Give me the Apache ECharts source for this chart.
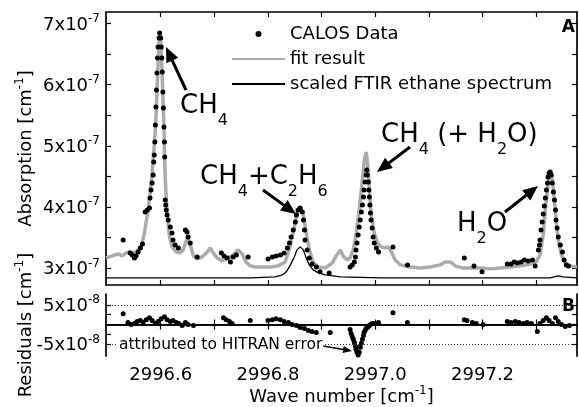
<!DOCTYPE html>
<html>
<head>
<meta charset="utf-8">
<script src="https://cdn.jsdelivr.net/npm/echarts@6/dist/echarts.min.js"></script>
<style>
  html, body { margin: 0; padding: 0; background: #fff; }
  #chart { width: 579px; height: 407px; }
</style>
</head>
<body>
<div id="chart"></div>
<script>
// absorption values in units of 1e-7 cm^-1, residuals in units of 1e-8 cm^-1
const fitWave = [2996.498, 2996.510, 2996.521, 2996.528, 2996.536, 2996.543, 2996.551, 2996.558, 2996.564, 2996.569,
  2996.575, 2996.580, 2996.584, 2996.588, 2996.591, 2996.593, 2996.595, 2996.597, 2996.599, 2996.600,
  2996.602, 2996.604, 2996.606, 2996.607, 2996.609, 2996.612, 2996.616, 2996.621, 2996.629, 2996.636,
  2996.642, 2996.648, 2996.651, 2996.655, 2996.661, 2996.668, 2996.677, 2996.687, 2996.692, 2996.698,
  2996.705, 2996.715, 2996.724, 2996.733, 2996.744, 2996.752, 2996.759, 2996.767, 2996.776, 2996.789,
  2996.804, 2996.819, 2996.832, 2996.841, 2996.849, 2996.854, 2996.860, 2996.866, 2996.871, 2996.877,
  2996.884, 2996.894, 2996.907, 2996.920, 2996.927, 2996.935, 2996.940, 2996.948, 2996.953, 2996.959,
  2996.964, 2996.970, 2996.976, 2996.980, 2996.983, 2996.986, 2996.989, 2996.992, 2996.998, 2997.004,
  2997.011, 2997.019, 2997.024, 2997.030, 2997.037, 2997.047, 2997.065, 2997.084, 2997.102, 2997.121,
  2997.130, 2997.140, 2997.149, 2997.162, 2997.177, 2997.196, 2997.214, 2997.233, 2997.252, 2997.270,
  2997.289, 2997.300, 2997.307, 2997.313, 2997.317, 2997.321, 2997.324, 2997.327, 2997.330, 2997.334,
  2997.337, 2997.341, 2997.347, 2997.354, 2997.363, 2997.376];
const fitAbs = [3.164, 3.196, 3.229, 3.196, 3.246, 3.262, 3.246, 3.295, 3.360, 3.540,
  3.867, 4.195, 4.571, 5.013, 5.422, 5.913, 6.323, 6.732, 6.879, 6.732,
  6.323, 5.831, 5.340, 4.849, 4.358, 3.867, 3.540, 3.344, 3.262, 3.246,
  3.295, 3.458, 3.491, 3.376, 3.196, 3.147, 3.180, 3.262, 3.327, 3.246,
  3.164, 3.115, 3.164, 3.196, 3.295, 3.229, 3.098, 3.033, 3.016, 3.016,
  3.016, 3.033, 3.098, 3.344, 3.655, 3.900, 3.982, 3.867, 3.589, 3.295,
  3.098, 3.016, 3.000, 3.082, 3.196, 3.295, 3.196, 3.131, 3.164, 3.295,
  3.540, 3.949, 4.440, 4.800, 4.899, 4.686, 4.277, 3.900, 3.573, 3.409,
  3.344, 3.327, 3.344, 3.262, 3.131, 3.049, 3.016, 3.000, 3.016, 3.049,
  3.098, 3.098, 3.033, 3.000, 3.000, 3.000, 2.984, 3.000, 3.016, 3.033,
  3.065, 3.098, 3.213, 3.540, 3.949, 4.277, 4.506, 4.571, 4.440, 4.113,
  3.786, 3.458, 3.213, 3.082, 3.033, 3.016];

const calosWave = [2996.530, 2996.543, 2996.547, 2996.551, 2996.554, 2996.558, 2996.562, 2996.566,
  2996.571, 2996.575, 2996.579, 2996.580, 2996.582, 2996.584, 2996.586, 2996.587, 2996.588, 2996.589,
  2996.590, 2996.591, 2996.592, 2996.593, 2996.594, 2996.595, 2996.597, 2996.598,
  2996.600, 2996.601, 2996.602, 2996.603, 2996.604, 2996.605, 2996.606, 2996.607, 2996.6075,
  2996.6084, 2996.6093, 2996.6103, 2996.612, 2996.614, 2996.618, 2996.621, 2996.623, 2996.627, 2996.633,
  2996.646, 2996.649, 2996.651, 2996.655, 2996.668,
  2996.713, 2996.718, 2996.724, 2996.730, 2996.735, 2996.741, 2996.763,
  2996.800, 2996.808, 2996.815, 2996.823, 2996.830, 2996.836, 2996.840, 2996.843, 2996.847, 2996.851,
  2996.853, 2996.856, 2996.860, 2996.864, 2996.866, 2996.868, 2996.869, 2996.873, 2996.877, 2996.882,
  2996.890, 2996.897, 2996.914,
  2996.953, 2996.957, 2996.961, 2996.963, 2996.964, 2996.966, 2996.968, 2996.970, 2996.972, 2996.974,
  2996.976, 2996.978, 2996.979, 2996.981, 2996.983, 2996.984, 2996.985, 2996.987, 2996.988, 2996.989,
  2996.990, 2996.991, 2996.992, 2996.994, 2996.996, 2996.998, 2997.002, 2997.006,
  2997.033, 2997.060, 2997.166, 2997.184, 2997.199,
  2997.246, 2997.253, 2997.259, 2997.265, 2997.272, 2997.278, 2997.285, 2997.293, 2997.298,
  2997.304, 2997.306, 2997.307, 2997.309, 2997.311, 2997.313, 2997.315, 2997.317, 2997.319, 2997.321,
  2997.322, 2997.324, 2997.326, 2997.328, 2997.330, 2997.332, 2997.334, 2997.336, 2997.337, 2997.339,
  2997.341, 2997.345, 2997.349, 2997.352, 2997.356, 2997.360];
const calosAbs = [3.458, 3.246, 3.213, 3.164, 3.196, 3.262, 3.327, 3.393,
  3.917, 3.949, 3.982, 4.146, 4.277, 4.391, 4.522, 4.735, 4.849, 5.062,
  5.340, 5.635, 5.913, 6.192, 6.437, 6.617, 6.764, 6.846,
  6.764, 6.617, 6.437, 6.208, 5.881, 5.619, 5.308, 5.062, 4.817,
  4.113, 4.031, 3.949, 3.867, 3.786, 3.671, 3.573, 3.458, 3.376, 3.327,
  3.622, 3.589, 3.507, 3.409, 3.180,
  3.246, 3.196, 3.164, 3.098, 3.180, 3.213, 3.180,
  3.147, 3.180, 3.196, 3.213, 3.246, 3.327, 3.409, 3.507, 3.622, 3.753,
  3.867, 3.949, 3.982, 3.917, 3.786, 3.622, 3.458, 3.295, 3.164, 3.065,
  3.016, 2.935, 2.918,
  3.016, 3.049, 3.098, 3.180, 3.295, 3.409, 3.540, 3.671, 3.786, 3.917,
  4.031, 4.162, 4.277, 4.408, 4.522, 4.604, 4.522, 4.408, 4.277, 4.162,
  4.031, 3.900, 3.786, 3.655, 3.507, 3.409, 3.327, 3.262,
  3.344, 3.049, 3.164, 3.033, 2.935,
  3.065, 3.065, 3.098, 3.082, 3.098, 3.131, 3.115, 3.131, 3.033,
  3.295, 3.376, 3.458, 3.622, 3.753, 3.884, 4.015, 4.146, 4.277, 4.391,
  4.489, 4.555, 4.571, 4.522, 4.391, 4.244, 4.113, 3.949, 3.786, 3.655,
  3.507, 3.376, 3.262, 3.131, 3.049, 3.033];

const ftirWave = [2996.498, 2996.580, 2996.674, 2996.767, 2996.813, 2996.827, 2996.834, 2996.841, 2996.849,
  2996.854, 2996.860, 2996.866, 2996.871, 2996.877, 2996.884, 2996.894, 2996.907, 2996.935, 2997.009,
  2997.140, 2997.289, 2997.326, 2997.341, 2997.350, 2997.376];
const ftirAbs = [2.836, 2.836, 2.836, 2.836, 2.853, 2.885, 2.935, 3.033, 3.180,
  3.295, 3.344, 3.295, 3.164, 3.049, 2.967, 2.918, 2.885, 2.853, 2.836,
  2.836, 2.836, 2.836, 2.869, 2.853, 2.836];

const resWave = [2996.530, 2996.539, 2996.545, 2996.551, 2996.556, 2996.562, 2996.567, 2996.573, 2996.579,
  2996.584, 2996.590, 2996.595, 2996.601, 2996.607, 2996.612, 2996.618, 2996.623, 2996.629, 2996.634,
  2996.640, 2996.646, 2996.651, 2996.661,
  2996.717, 2996.722, 2996.728, 2996.733, 2996.767,
  2996.800, 2996.808, 2996.815, 2996.823, 2996.830, 2996.838, 2996.845, 2996.853, 2996.860, 2996.868,
  2996.875, 2996.882, 2996.890, 2996.916,
  2996.953, 2996.955, 2996.957, 2996.959, 2996.961, 2996.963, 2996.964, 2996.966, 2996.968, 2996.970,
  2996.972, 2996.974, 2996.976, 2996.978, 2996.979, 2996.981, 2996.983, 2996.985, 2996.987, 2996.989,
  2996.991, 2996.994, 2996.998, 2997.006,
  2997.033, 2997.060, 2997.166, 2997.171, 2997.181, 2997.188, 2997.201,
  2997.246, 2997.253, 2997.261, 2997.268, 2997.276, 2997.283, 2997.291, 2997.302, 2997.307, 2997.313,
  2997.319, 2997.324, 2997.330, 2997.336, 2997.341, 2997.347, 2997.354, 2997.362];
const resValue = [2.75, 0.5, 0.0, 0.25, 0.75, 1.0, 0.5, 1.25, 1.75,
  1.0, 0.25, 0.75, 1.5, 2.0, 1.25, 0.75, 1.0, 0.5, 0.25,
  -0.25, 0.5, 0.0, -0.25,
  1.75, 1.25, 0.75, 0.25, 1.0,
  1.0, 1.25, 1.5, 1.25, 0.75, 0.5, 0.0, -0.25, -0.75, -1.0,
  -1.5, -1.75, -2.0, -2.0,
  -1.25, -2.25, -3.0, -3.75, -4.5, -5.5, -6.25, -7.0, -7.75, -7.0,
  -5.75, -4.75, -3.75, -2.75, -2.0, -1.5, -1.0, -0.75, -0.5, -0.25,
  0.0, 0.25, 0.25, 0.5,
  3.0, 0.5, 1.25, 1.0, 0.5, 0.25, 0.0,
  0.75, 0.5, 0.75, 0.5, 0.25, 0.5, 0.25, -1.75, 0.25, 1.0,
  1.75, 1.0, 0.25, 1.75, 0.75, 0.0, -0.5, -0.25];

const waveTicks = [2996.6, 2996.7, 2996.8, 2996.9, 2997.0, 2997.1, 2997.2, 2997.3];
const waveLabels = [2996.6, 2996.8, 2997.0, 2997.2];
const absTicks = [3, 3.5, 4, 4.5, 5, 5.5, 6, 6.5, 7];
const absLabels = [3, 4, 5, 6, 7];
const resTicks = [-5, -2.5, 0, 2.5, 5];
const resLabels = [-5, 0, 5];
const legendNames = ['CALOS Data', 'fit result', 'scaled FTIR ethane spectrum'];

const zip = (xs, ys) => xs.map((x, i) => [x, ys[i]]);
const FONT = 'DejaVu Sans';
const supRich = {
  m: { fontFamily: FONT, fontSize: 18, color: '#000', padding: [3, 0, 0, 0], verticalAlign: 'bottom' },
  s: { fontFamily: FONT, fontSize: 12, color: '#000', verticalAlign: 'top' }
};
const subRich = {
  m: { fontFamily: FONT, fontSize: 26, color: '#000', padding: [0, 0, 10, 0], verticalAlign: 'bottom' },
  s: { fontFamily: FONT, fontSize: 16, color: '#000', verticalAlign: 'bottom' }
};

const X_MIN = 2996.498, X_MAX = 2997.376;
const frame = { lineStyle: { color: '#000', width: 1.7 } };
const tick = (vals) => ({ inside: true, length: 5, customValues: vals, lineStyle: { color: '#000', width: 1.2 } });

function xAx(grid, pos, labels) {
  return {
    type: 'value', gridIndex: grid, position: pos, min: X_MIN, max: X_MAX,
    axisLine: frame, axisTick: tick(waveTicks), splitLine: { show: false },
    axisLabel: labels ? {
      customValues: waveLabels, margin: 10, fontFamily: FONT, fontSize: 18, color: '#000',
      hideOverlap: false, formatter: v => v.toFixed(1)
    } : { show: false }
  };
}
function yAx(grid, pos, min, max, ticks, labels, exp, name) {
  const ax = {
    type: 'value', gridIndex: grid, position: pos, min: min, max: max,
    axisLine: frame, axisTick: tick(ticks), splitLine: { show: false },
    axisLabel: labels ? {
      customValues: labels, margin: 6, rich: supRich, hideOverlap: false,
      showMinLabel: true, showMaxLabel: true,
      formatter: v => v === 0 ? '{m|0}' : '{m|' + v + 'x10}{s|' + exp + '}'
    } : { show: false }
  };
  if (name) {
    ax.name = '{m|' + name + ' [cm}{s|-1}{m|]}';
    ax.nameLocation = 'middle';
    ax.nameGap = 71;
    ax.nameMoveOverlap = false;
    ax.nameTextStyle = { rich: supRich };
  }
  return ax;
}

function arrow(tail, tip, L, W, lw) {
  const dx = tip[0] - tail[0], dy = tip[1] - tail[1], len = Math.hypot(dx, dy);
  const ux = dx / len, uy = dy / len, bx = tip[0] - ux * L, by = tip[1] - uy * L;
  return [
    { type: 'line', shape: { x1: tail[0], y1: tail[1], x2: bx + ux * 2, y2: by + uy * 2 },
      style: { stroke: '#000', lineWidth: lw } },
    { type: 'polygon', shape: { points: [tip, [bx - uy * W, by + ux * W], [bx + uy * W, by - ux * W]] },
      style: { fill: '#000' } }
  ];
}
function label(x, y, text) {
  return { type: 'text', x: x, y: y, style: { text: text, rich: subRich, align: 'left', verticalAlign: 'top' } };
}

const xName = {
  name: '{m|Wave number [cm}{s|-1}{m|]}', nameLocation: 'middle', nameGap: 24,
  nameTextStyle: { rich: supRich }
};

const chart = echarts.init(document.getElementById('chart'));
chart.setOption({
  animation: false,
  backgroundColor: '#fff',
  textStyle: { fontFamily: FONT },
  grid: [
    { left: 106, top: 12, width: 471, height: 273 },
    { left: 106, top: 294, width: 471, height: 63 }
  ],
  legend: {
    data: [
      { name: legendNames[0] },
      { name: legendNames[1], itemStyle: { opacity: 0 } },
      { name: legendNames[2], itemStyle: { opacity: 0 } }
    ],
    orient: 'vertical', left: 226, top: 19, itemWidth: 53, itemHeight: 6, itemGap: 5,
    selectedMode: false,
    textStyle: { fontFamily: FONT, fontSize: 18, color: '#000', lineHeight: 20 }
  },
  xAxis: [
    xAx(0, 'bottom', false), xAx(0, 'top', false),
    Object.assign(xAx(1, 'bottom', true), xName), xAx(1, 'top', false)
  ],
  yAxis: [
    yAx(0, 'left', 2.72, 7.19, absTicks, absLabels, '-7', 'Absorption'),
    yAx(0, 'right', 2.72, 7.19, absTicks, null),
    yAx(1, 'left', -8, 7.75, resTicks, resLabels, '-8', 'Residuals'),
    yAx(1, 'right', -8, 7.75, resTicks, null)
  ],
  series: [
    { name: 'fit result', type: 'line', xAxisIndex: 0, yAxisIndex: 0, data: zip(fitWave, fitAbs),
      symbol: 'none', lineStyle: { color: '#ababab', width: 3.5 }, itemStyle: { color: '#ababab' }, z: 2 },
    { name: 'scaled FTIR ethane spectrum', type: 'line', xAxisIndex: 0, yAxisIndex: 0, data: zip(ftirWave, ftirAbs),
      symbol: 'none', lineStyle: { color: '#000', width: 1.3 }, itemStyle: { color: '#000' }, z: 3 },
    { name: 'CALOS Data', type: 'scatter', xAxisIndex: 0, yAxisIndex: 0, data: zip(calosWave, calosAbs),
      symbol: 'circle', symbolSize: 5, itemStyle: { color: '#000', opacity: 1 }, z: 4 },
    { name: 'residuals', type: 'scatter', xAxisIndex: 2, yAxisIndex: 2, data: zip(resWave, resValue),
      symbol: 'circle', symbolSize: 5, itemStyle: { color: '#000', opacity: 1 }, z: 4,
      markLine: {
        silent: true, symbol: ['none', 'none'], label: { show: false },
        data: [
          { yAxis: 5, lineStyle: { type: [1, 2], color: '#333', width: 1 } },
          { yAxis: -5, lineStyle: { type: [1, 2], color: '#333', width: 1 } },
          { yAxis: 0, lineStyle: { type: 'solid', color: '#000', width: 1.2 } }
        ]
      } }
  ],
  graphic: [
    label(180, 93, '{m|CH}{s|4}'),
    label(200, 164, '{m|CH}{s|4}{m|+C}{s|2}{m|H}{s|6}'),
    label(381, 122, '{m|CH}{s|4}{m| (+ H}{s|2}{m|O)}'),
    label(457, 211, '{m|H}{s|2}{m|O}'),
    ...arrow([186, 90], [166, 47], 15, 6.5, 3),
    ...arrow([263, 190], [296, 214], 15, 6.5, 3),
    ...arrow([410, 147], [377, 172], 15, 6.5, 3),
    ...arrow([505, 212], [538, 186], 15, 6.5, 3),
    { type: 'text', x: 575, y: 28, style: { text: 'A', font: 'bold 17px "DejaVu Sans"', fill: '#000', align: 'right', verticalAlign: 'middle' } },
    { type: 'text', x: 575, y: 307, style: { text: 'B', font: 'bold 17px "DejaVu Sans"', fill: '#000', align: 'right', verticalAlign: 'middle' } },
    { type: 'text', x: 118, y: 345, z: 10, style: { text: 'attributed to HITRAN error', font: '15.5px "DejaVu Sans"', fill: '#000',
      backgroundColor: '#fff', padding: [0, 1], align: 'left', verticalAlign: 'middle' } },
    ...arrow([323, 346], [352, 351], 9, 3.5, 1.5)
  ]
});
</script>
</body>
</html>
